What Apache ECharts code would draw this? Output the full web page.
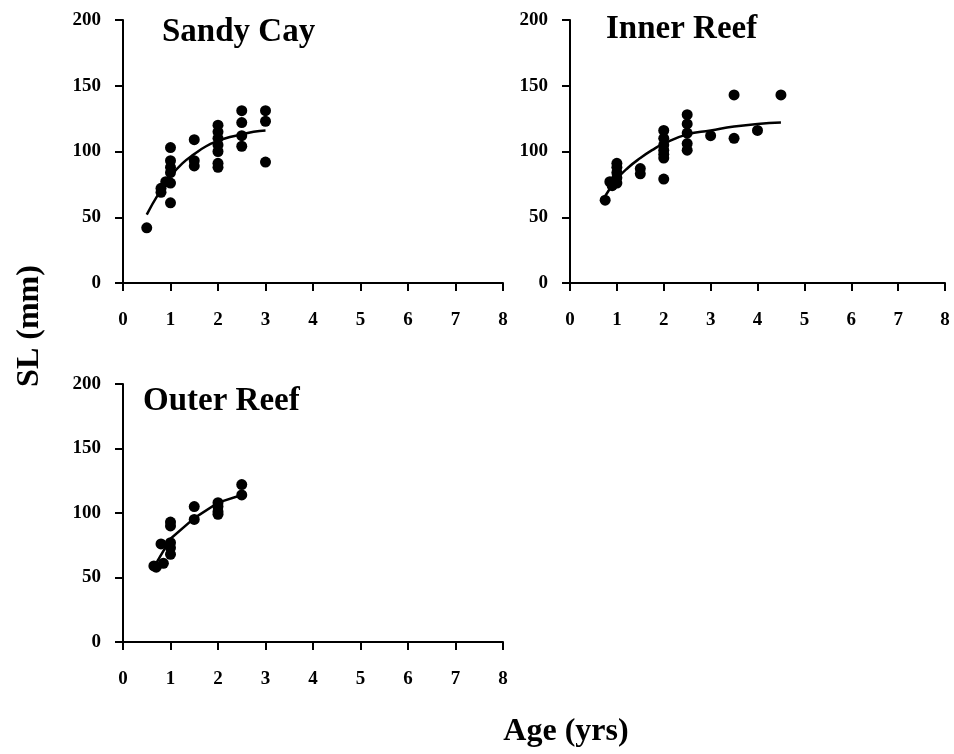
<!DOCTYPE html>
<html>
<head>
<meta charset="utf-8">
<script src="https://cdn.jsdelivr.net/npm/echarts@6/dist/echarts.min.js"></script>
<style>
  html, body { margin: 0; padding: 0; background: #fff; }
  #chart { width: 954px; height: 754px; }
</style>
</head>
<body>
<div id="chart"></div>
<script>
// panel titles
const panelNames = ['Sandy Cay', 'Inner Reef', 'Outer Reef']

// observed points [age, SL]
const sandyPts = [
  [0.5, 42], [0.8, 69], [0.8, 72], [0.9, 77], [1, 76], [1, 61], [1, 84], [1, 88], [1, 93], [1, 103],
  [1.5, 109], [1.5, 93], [1.5, 89],
  [2, 120], [2, 115], [2, 110], [2, 105], [2, 100], [2, 91], [2, 88],
  [2.5, 131], [2.5, 122], [2.5, 112], [2.5, 104],
  [3, 131], [3, 123], [3, 92]
]
const innerPts = [
  [0.75, 63], [0.85, 77], [0.9, 74], [1, 91], [1, 88], [1, 84], [1, 80], [1, 76],
  [1.5, 87], [1.5, 83],
  [2, 116], [2, 110], [2, 105], [2, 101], [2, 98], [2, 95], [2, 79],
  [2.5, 128], [2.5, 121], [2.5, 114], [2.5, 106], [2.5, 101],
  [3, 112], [3.5, 143], [3.5, 110], [4, 116], [4.5, 143]
]
const outerPts = [
  [0.65, 59], [0.7, 58], [0.85, 61], [0.8, 76], [1, 77], [1, 73], [1, 68], [1, 90], [1, 93],
  [1.5, 105], [1.5, 95],
  [2, 108], [2, 105], [2, 101], [2, 99],
  [2.5, 122], [2.5, 114]
]

// fitted growth curves
const sandyCurveX = [0.5, 0.75, 1, 1.25, 1.5, 1.75, 2, 2.25, 2.5, 2.75, 3]
const sandyCurveY = [52, 68, 81, 91, 98, 104, 108, 111, 113, 115, 116]
const innerCurveX = [0.75, 1, 1.25, 1.5, 1.75, 2, 2.5, 3, 3.5, 4, 4.5]
const innerCurveY = [66, 79, 88, 95, 101, 106, 113, 116, 119, 121, 122]
const outerCurveX = [0.65, 1, 1.5, 2, 2.5]
const outerCurveY = [58, 80, 96, 108, 114]

const xTicks = ['0', '1', '2', '3', '4', '5', '6', '7', '8']
const yTicks = ['0', '50', '100', '150', '200']

const font = 'Liberation Serif, Times New Roman, serif'
const pair = (xs, ys) => xs.map((x, i) => [x, ys[i]])

const grids = [
  { left: 123, top: 20, width: 380, height: 263 },
  { left: 570, top: 20, width: 375, height: 263 },
  { left: 123, top: 384, width: 380, height: 258 }
]

const xAxes = grids.map((g, i) => ({
  type: 'value', gridIndex: i, min: 0, max: 8, interval: 1,
  splitLine: { show: false },
  axisLine: { lineStyle: { color: '#000', width: 2 } },
  axisTick: { length: 8, lineStyle: { color: '#000', width: 2 } },
  axisLabel: {
    margin: 28, color: '#000', fontFamily: font, fontWeight: 'bold', fontSize: 19,
    formatter: v => xTicks[v]
  }
}))
const yAxes = grids.map((g, i) => ({
  type: 'value', gridIndex: i, min: 0, max: 200, interval: 50,
  splitLine: { show: false },
  axisLine: { lineStyle: { color: '#000', width: 2 } },
  axisTick: { length: 8, lineStyle: { color: '#000', width: 2 } },
  axisLabel: {
    margin: 22, color: '#000', fontFamily: font, fontWeight: 'bold', fontSize: 19,
    formatter: v => yTicks[v / 50]
  }
}))

const pts = [sandyPts, innerPts, outerPts]
const curves = [pair(sandyCurveX, sandyCurveY), pair(innerCurveX, innerCurveY), pair(outerCurveX, outerCurveY)]
const series = []
pts.forEach((p, i) => {
  series.push({
    type: 'scatter', xAxisIndex: i, yAxisIndex: i, data: p,
    symbolSize: 11, itemStyle: { color: '#000', opacity: 1 }, z: 3
  })
  series.push({
    type: 'line', xAxisIndex: i, yAxisIndex: i, data: curves[i],
    smooth: i < 2, showSymbol: false, lineStyle: { color: '#000', width: 2.5 }, z: 4
  })
})

const titlePos = [
  { left: 162, top: 16 },
  { left: 606, top: 13 },
  { left: 143, top: 385 }
]

const chart = echarts.init(document.getElementById('chart'))
chart.setOption({
  animation: false,
  title: panelNames.map((n, i) => ({
    text: n, left: titlePos[i].left, top: titlePos[i].top, padding: 0,
    textStyle: { fontFamily: font, fontWeight: 'bold', fontSize: 33, color: '#000' }
  })),
  grid: grids,
  xAxis: xAxes,
  yAxis: yAxes,
  series: series,
  graphic: [
    {
      type: 'text', x: 30, y: 326, rotation: Math.PI / 2,
      style: {
        text: 'SL (mm)', fill: '#000', font: 'bold 32px ' + font,
        textAlign: 'center', textVerticalAlign: 'middle'
      }
    },
    {
      type: 'text', x: 566, y: 732,
      style: {
        text: 'Age (yrs)', fill: '#000', font: 'bold 32px ' + font,
        textAlign: 'center', textVerticalAlign: 'middle'
      }
    }
  ]
})
</script>
</body>
</html>
